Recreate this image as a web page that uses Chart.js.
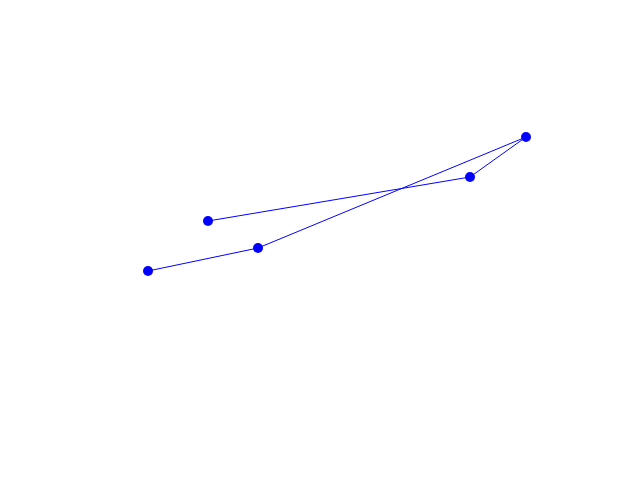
<!DOCTYPE html>
<html>
<head>
<meta charset="utf-8">
<script src="https://cdn.jsdelivr.net/npm/chart.js@4"></script>
<style>
  html, body { margin: 0; padding: 0; background: #fff; }
  #wrap { width: 640px; height: 480px; }
</style>
</head>
<body>
<div id="wrap"><canvas id="chart" width="640" height="480"></canvas></div>
<script>
/* ── Data ── */
const xValues = [1.48, 2.58, 5.26, 4.70, 2.08];
const yValues = [2.09, 2.32, 3.43, 3.03, 2.59];

/* ── Axis ranges (axes themselves are hidden) ── */
const xRange = [0, 6.4];
const yRange = [0, 4.8];

const points = xValues.map((x, i) => ({ x, y: yValues[i] }));

const ctx = document.getElementById('chart').getContext('2d');

new Chart(ctx, {
  type: 'scatter',
  data: {
    datasets: [{
      data: points,
      showLine: true,
      borderColor: '#0000ff',
      borderWidth: 1,
      pointBackgroundColor: '#0000ff',
      pointBorderColor: '#0000ff',
      pointRadius: 5,
      pointBorderWidth: 0,
      tension: 0,
    }]
  },
  options: {
    responsive: false,
    animation: false,
    layout: { padding: 0, autoPadding: false },
    plugins: {
      legend: { display: false },
      tooltip: { enabled: false }
    },
    scales: {
      x: { type: 'linear', min: xRange[0], max: xRange[1], display: false },
      y: { type: 'linear', min: yRange[0], max: yRange[1], display: false }
    }
  }
});
</script>
</body>
</html>
